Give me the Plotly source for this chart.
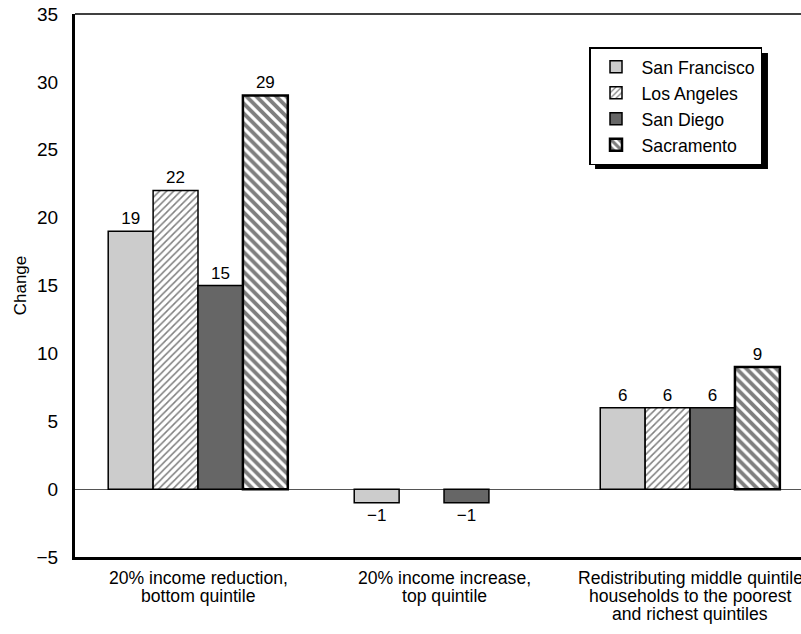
import plotly.graph_objects as go

categories = ["20% income reduction,<br>bottom quintile",
              "20% income increase,<br>top quintile",
              "Redistributing middle quintile<br>households to the poorest<br>and richest quintiles"]
cities = ["San Francisco", "Los Angeles", "San Diego", "Sacramento"]
san_francisco = [19, -1, 6]
los_angeles = [22, 0, 6]
san_diego = [15, -1, 6]
sacramento = [29, 0, 9]
y_ticks = [-5, 0, 5, 10, 15, 20, 25, 30, 35]

series = [san_francisco, los_angeles, san_diego, sacramento]
fills = [
    dict(color="#cccccc"),
    dict(color="white", pattern=dict(shape="/", fgcolor="black", bgcolor="white", size=5, solidity=0.3)),
    dict(color="#666666"),
    dict(color="white", pattern=dict(shape="\\", fgcolor="black", bgcolor="white", size=7, solidity=0.55)),
]
edge_widths = [1.5, 1.5, 1.5, 2.5]

def label(v):
    if v == 0:
        return ""
    return ("\u2212" + str(abs(v))) if v < 0 else str(v)

xpos = list(range(len(categories)))
fig = go.Figure()
for name, vals, fill, ew in zip(cities, series, fills, edge_widths):
    marker = dict(fill)
    marker["line"] = dict(color="black", width=[0 if v == 0 else ew for v in vals])
    fig.add_trace(go.Bar(
        x=xpos, y=vals, name=name, marker=marker,
        text=[label(v) for v in vals], textposition="outside",
        textfont=dict(size=17, color="black", family="Liberation Sans"),
        cliponaxis=False,
    ))

annotations = []
for i, cat in enumerate(categories):
    for j, line in enumerate(cat.split("<br>")):
        annotations.append(dict(
            x=i, xref="x", y=0, yref="paper", yanchor="top", xanchor="center",
            yshift=-(9 + 18 * j), text=line, showarrow=False,
            font=dict(size=17.6, color="black", family="Liberation Sans"),
        ))

fig.update_layout(
    width=801, height=634,
    margin=dict(l=75, r=0, t=14, b=77),
    paper_bgcolor="white", plot_bgcolor="white",
    barmode="group", bargap=0.27, bargroupgap=0,
    font=dict(family="Liberation Sans", color="black", size=18),
    showlegend=True,
    legend=dict(x=0.708, y=0.939, xanchor="left", yanchor="top",
                bgcolor="white", bordercolor="black", borderwidth=1.5,
                font=dict(size=17.7), tracegroupgap=0, itemwidth=41),
    xaxis=dict(tickmode="array", tickvals=xpos, ticktext=["", "", ""],
               range=[-0.5, 2.451], showline=True, linecolor="black", linewidth=3,
               ticks="", showgrid=False, zeroline=False, automargin=False),
    yaxis=dict(range=[-5, 35], tickvals=y_ticks, showline=True, linecolor="black",
               linewidth=3, ticks="", showgrid=False, zeroline=True,
               zerolinecolor="#555555", zerolinewidth=1, automargin=False,
               title=dict(text="Change", font=dict(size=17), standoff=6),
               tickfont=dict(size=19), ticklabelstandoff=10),
    annotations=annotations,
    shapes=[
        dict(type="line", xref="paper", yref="paper", x0=0, x1=1, y0=1, y1=1,
             line=dict(color="black", width=1.5)),
        dict(type="rect", xref="paper", yref="paper", x0=0.7163, x1=0.9545,
             y0=0.7145, y1=0.9282, fillcolor="black", line=dict(width=0), layer="above"),
    ],
)
fig.write_html("out.html", post_script="document.body.style.margin='0';",
               config={"displayModeBar": False})
